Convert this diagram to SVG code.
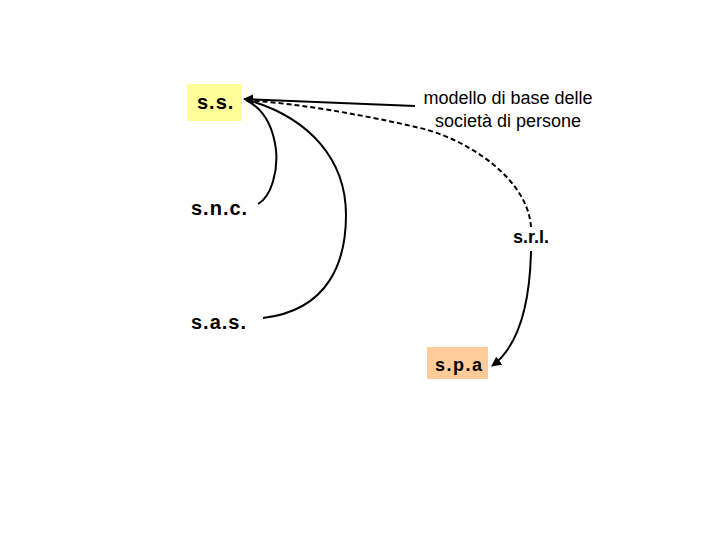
<svg xmlns="http://www.w3.org/2000/svg" width="720" height="540" viewBox="0 0 720 540">
<style>
.t{font-family:"Liberation Sans",Arial,sans-serif;fill:#000}
.big{font-size:20px;font-weight:bold;letter-spacing:1px}
.sm{font-size:18px}
.c{fill:none;stroke:#000;stroke-width:2}
</style>
<defs>
<marker id="ah" viewBox="0 0 10 10" refX="9" refY="5" markerWidth="5" markerHeight="5" orient="auto-start-reverse">
<path d="M0,0 L10,5 L0,10 z" fill="#000"/>
</marker>
</defs>
<rect width="720" height="540" fill="#fff"/>
<g id="connectors">
<path class="c" d="M415,106 L244,99" marker-end="url(#ah)"/>
<path class="c" stroke-dasharray="5,3" d="M531,227 C528,180 470,140 420,128 C360,114 300,104 246,100"/>
<path class="c" d="M258,204 C272,196 278,170 276,150 C273,125 262,108 246,100"/>
<path class="c" d="M263,318 C330,310 346,260 346,215 C346,160 310,118 248,100"/>
<path class="c" d="M531,251 C530,300 520,345 492,366" marker-end="url(#ah)"/>
</g>
<g id="ss">
<rect x="187" y="84" width="55" height="37" fill="#FFFF99"/>
<text class="t big" x="197" y="109">s.s.</text>
</g>
<g id="modello">
<text class="t sm" x="508" y="104" text-anchor="middle">modello di base delle</text>
<text class="t sm" x="508" y="127" text-anchor="middle">società di persone</text>
</g>
<g id="snc">
<text class="t big" x="191" y="215">s.n.c.</text>
</g>
<g id="srl">
<text class="t sm" x="531" y="243" text-anchor="middle" font-weight="bold">s.r.l.</text>
</g>
<g id="sas">
<text class="t big" x="191" y="329">s.a.s.</text>
</g>
<g id="spa">
<rect x="427" y="347" width="61" height="32" fill="#FFCC99"/>
<text class="t sm" x="435" y="371" font-weight="bold" style="letter-spacing:1.5px">s.p.a</text>
</g>
</svg>
